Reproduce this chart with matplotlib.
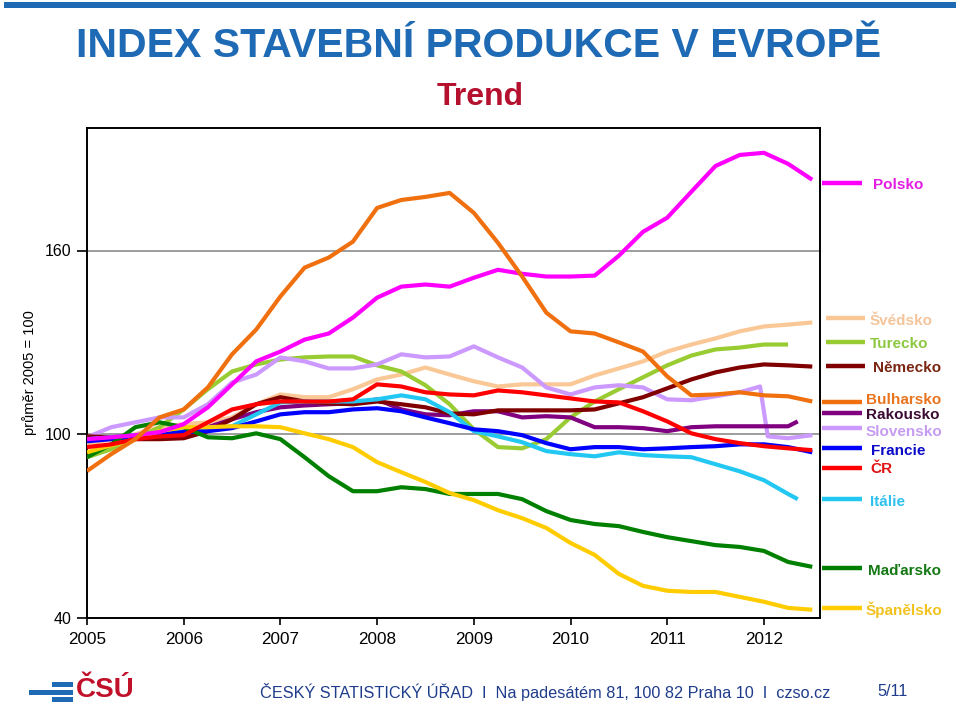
import matplotlib
matplotlib.use("Agg")
import matplotlib.pyplot as plt
from matplotlib.lines import Line2D
from matplotlib.patches import Rectangle

plt.rcParams['font.family'] = ['Liberation Sans', 'DejaVu Sans']

# ctvrtleti 2005 Q1 .. 2012 Q3 (poloha na ose v letech)
kvartaly = [2005 + i * 0.25 for i in range(31)]

polsko = [98.4, 99.0, 99.7, 100.7, 103.3, 108.8, 116.3, 123.8, 127.0, 130.9, 132.9, 138.1,
          144.6, 148.2, 148.9, 148.2, 151.1, 153.7, 152.4, 151.5, 151.5, 151.8, 158.3, 166.1,
          170.7, 179.2, 187.6, 191.2, 191.9, 188.3, 183.1]
bulharsko = [88.0, 93.5, 98.4, 105.5, 108.1, 115.3, 126.1, 134.2, 145.0, 154.4, 157.7, 162.9,
             173.9, 176.5, 177.5, 178.8, 172.3, 162.5, 151.5, 139.7, 133.6, 132.9, 130.0, 127.0,
             118.9, 112.7, 113.0, 113.7, 112.7, 112.4, 110.7]
turecko = [92.5, 95.1, 98.4, 102.3, 108.1, 114.7, 120.5, 122.8, 124.4, 125.1, 125.4, 125.4,
           122.5, 120.5, 116.0, 109.8, 101.6, 95.8, 95.4, 98.4, 105.5, 110.7, 114.7, 118.6,
           122.5, 125.7, 127.7, 128.3, 129.3, 129.3]
svedsko = [96.7, 98.4, 100.0, 102.3, 103.3, 103.9, 105.5, 109.8, 113.0, 112.1, 112.1, 114.7,
           117.9, 119.5, 121.8, 119.5, 117.3, 115.6, 116.3, 116.3, 116.3, 119.2, 121.5, 123.8,
           127.0, 129.3, 131.3, 133.6, 135.2, 135.8, 136.5]
nemecko = [99.3, 99.0, 98.4, 98.4, 98.7, 101.0, 104.9, 109.8, 112.1, 110.7, 110.1, 109.8,
           110.7, 109.8, 108.8, 106.8, 106.5, 107.8, 107.8, 107.8, 107.8, 108.1, 110.1, 112.1,
           115.0, 117.9, 120.2, 121.8, 122.8, 122.5, 122.1]
rakousko = [98.4, 99.0, 99.7, 100.0, 100.7, 102.3, 104.9, 107.2, 108.8, 109.4, 109.8, 110.1,
            111.4, 108.1, 106.5, 106.2, 107.5, 107.5, 105.5, 105.9, 105.5, 102.3, 102.3, 102.0,
            101.0, 102.3, 102.6, 102.6, 102.6, 102.6, 104.2]
slovensko_x = kvartaly[:28] + [2011.96, 2012.04, 2012.25, 2012.5]
slovensko = [99.0, 102.3, 103.9, 105.5, 105.5, 109.8, 116.9, 119.5, 125.1, 123.8, 121.5, 121.5,
             122.8, 126.1, 125.1, 125.4, 128.7, 125.1, 121.8, 115.3, 113.0, 115.3, 116.0, 115.3,
             111.4, 111.1, 112.4, 113.7, 115.6, 99.3, 98.7, 99.7]
francie = [97.7, 98.4, 99.0, 100.0, 100.7, 101.0, 102.0, 104.2, 106.5, 107.2, 107.2, 108.1,
           108.5, 107.5, 105.5, 103.6, 101.6, 101.0, 99.7, 97.1, 95.1, 95.8, 95.8, 95.1,
           95.4, 95.8, 96.1, 96.7, 96.7, 95.8, 94.1]
cr = [95.8, 96.7, 98.4, 99.3, 99.7, 103.9, 108.1, 109.8, 110.7, 110.7, 110.7, 111.4,
      116.3, 115.6, 113.7, 113.0, 112.7, 114.3, 113.7, 112.7, 111.7, 110.7, 110.4, 107.5,
      104.2, 100.3, 98.4, 97.1, 96.1, 95.4, 94.8]
italie = [98.4, 99.0, 99.7, 100.3, 101.0, 101.6, 102.6, 106.5, 110.4, 110.7, 110.7, 110.7,
          111.4, 112.7, 111.4, 107.2, 101.0, 99.3, 97.4, 94.5, 93.5, 92.8, 94.1, 93.2,
          92.8, 92.5, 90.2, 87.9, 85.0, 80.5, 78.8]
madarsko = [92.5, 96.7, 102.3, 103.9, 102.3, 99.0, 98.7, 100.3, 98.4, 92.5, 86.3, 81.4,
            81.4, 82.7, 82.1, 80.5, 80.5, 80.5, 78.8, 74.9, 72.0, 70.7, 70.0, 68.1,
            66.4, 65.1, 63.8, 63.2, 61.9, 58.3, 56.7]
spanelsko = [94.1, 96.4, 98.4, 101.0, 102.3, 102.3, 102.6, 102.6, 102.3, 100.3, 98.4, 95.8,
             90.9, 87.6, 84.4, 80.8, 78.5, 75.2, 72.6, 69.4, 64.5, 60.6, 54.4, 50.5,
             48.9, 48.5, 48.5, 46.9, 45.3, 43.3, 42.7]

roky = ['2005', '2006', '2007', '2008', '2009', '2010', '2011', '2012']

# nazev, hodnoty, barva cary
rady = [
    ('Švédsko', svedsko, '#FAC896'),
    ('Turecko', turecko, '#99CC33'),
    ('Slovensko', slovensko, '#CC99FF'),
    ('Rakousko', rakousko, '#800080'),
    ('Německo', nemecko, '#800000'),
    ('Itálie', italie, '#22C8F2'),
    ('Francie', francie, '#0000FF'),
    ('Maďarsko', madarsko, '#008000'),
    ('Španělsko', spanelsko, '#FFCC00'),
    ('ČR', cr, '#FF0000'),
    ('Polsko', polsko, '#FF00FF'),
    ('Bulharsko', bulharsko, '#F07010'),
]
konec = {'Rakousko': 2012.35, 'Itálie': 2012.35}

fig = plt.figure(figsize=(9.6, 7.06), dpi=100)
W, H = 960, 706


def fx(x):
    return x / W


def fy(y):
    return 1 - y / H


ax = fig.add_axes([fx(87), fy(618), fx(820) - fx(87), fy(128) - fy(618)])

for nazev, hodnoty, barva in rady:
    if nazev == 'Slovensko':
        xs = slovensko_x
    else:
        xs = list(kvartaly[:len(hodnoty)])
        if nazev in konec:
            xs[-1] = konec[nazev]
    ax.plot(xs, hodnoty, color=barva, lw=3.0, solid_capstyle='butt', zorder=3)

ax.set_xlim(2005, 2012.58)
ax.set_ylim(40, 200)
ax.set_yticks([40, 100, 160])
ax.set_xticks(range(2005, 2013))
ax.set_xticklabels(roky)
ax.tick_params(axis='both', direction='out', width=1.2)
ax.tick_params(axis='y', length=7, pad=4, labelsize=11.5)
ax.tick_params(axis='x', length=5, pad=5, labelsize=12.3)
ax.grid(axis='y', color='#8c8c8c', lw=1.2, zorder=1)
for s in ax.spines.values():
    s.set_linewidth(1.4)
    s.set_color('black')
ax.set_ylabel('průměr 2005 = 100', fontsize=10.5)
ax.yaxis.set_label_coords(-0.068, 0.5)

# popisky rad vpravo
popisky = [
    ('Polsko', '#FF00FF', '#E21EE2', 183, 185, 822, 862, 873),
    ('Švédsko', '#FAC896', '#F5C49A', 318, 321, 826, 865, 870),
    ('Turecko', '#99CC33', '#8CC840', 342, 344, 826, 865, 870),
    ('Německo', '#800000', '#7A2612', 366, 368, 826, 865, 873),
    ('Bulharsko', '#F07010', '#E8741E', 402, 400, 822, 862, 866),
    ('Rakousko', '#800080', '#3C0A32', 413, 415, 822, 862, 866),
    ('Slovensko', '#CC99FF', '#C59CF2', 428, 432, 822, 862, 866),
    ('Francie', '#0000FF', '#0A0AC8', 448, 451, 822, 862, 871),
    ('ČR', '#FF0000', '#E01414', 468, 469, 822, 862, 870),
    ('Itálie', '#22C8F2', '#2EC0EE', 499, 502, 822, 862, 870),
    ('Maďarsko', '#008000', '#147814', 568, 571, 822, 862, 868),
    ('Španělsko', '#FFCC00', '#F2C21E', 608, 610, 822, 862, 866),
]
for nazev, barva, tbarva, yl, yt, x0, x1, xt in popisky:
    fig.add_artist(Line2D([fx(x0), fx(x1)], [fy(yl), fy(yl)], color=barva, lw=3.2,
                          solid_capstyle='butt'))
    fig.text(fx(xt), fy(yt), nazev, color=tbarva, fontsize=11, fontweight='bold',
             va='center', ha='left')

# nadpisy
fig.add_artist(Rectangle((0.004, fy(8)), 0.992, fy(2) - fy(8), color='#1F6AB4', lw=0))
fig.text(fx(479), fy(46), 'INDEX STAVEBNÍ PRODUKCE V EVROPĚ', color='#1F6AB4', fontsize=29.5,
         fontweight='bold', ha='center', va='center')
fig.text(fx(480), fy(97), 'Trend', color='#B5102E', fontsize=23, fontweight='bold',
         ha='center', va='center')

# paticka s logem
for x0, x1, yy in [(52, 73, 684), (29, 73, 692), (52, 73, 699)]:
    fig.add_artist(Rectangle((fx(x0), fy(yy + 2.5)), fx(x1) - fx(x0), fy(yy - 2.5) - fy(yy + 2.5),
                             color='#1F6AB4', lw=0))
fig.text(fx(76), fy(690), 'ČSÚ', color='#C0102A', fontsize=20, fontweight='bold',
         ha='left', va='center')
fig.text(fx(260), fy(692), 'ČESKÝ STATISTICKÝ ÚŘAD  I  Na padesátém 81, 100 82 Praha 10  I  czso.cz',
         color='#1F3C8C', fontsize=11.7, ha='left', va='center')
fig.text(fx(908), fy(692), '5/11', color='#1F3C8C', fontsize=11.7, ha='right', va='center')

fig.savefig('out.png', dpi=100)
